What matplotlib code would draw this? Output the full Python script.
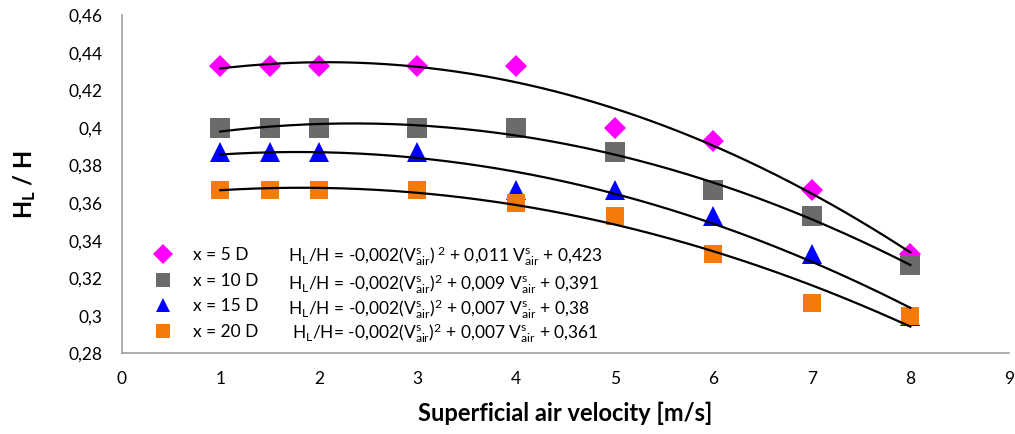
import matplotlib
matplotlib.use("Agg")
import matplotlib.pyplot as plt
import numpy as np

plt.rcParams['font.family'] = ['Lato', 'DejaVu Sans']
plt.rcParams['mathtext.fontset'] = 'custom'
plt.rcParams['mathtext.rm'] = 'Lato'
plt.rcParams['mathtext.it'] = 'Lato'
plt.rcParams['mathtext.bf'] = 'Lato:bold'

# superficial air velocity [m/s]
velocity = [1, 1.5, 2, 3, 4, 5, 6, 7, 8]

# HL/H for each measuring position
hl_5d = [0.433, 0.433, 0.433, 0.433, 0.433, 0.400, 0.393, 0.367, 0.333]
hl_10d = [0.400, 0.400, 0.400, 0.400, 0.400, 0.387, 0.367, 0.353, 0.327]
hl_15d = [0.387, 0.387, 0.387, 0.387, 0.367, 0.367, 0.353, 0.333, 0.300]
hl_20d = [0.367, 0.367, 0.367, 0.367, 0.360, 0.353, 0.333, 0.307, 0.300]

labels = ['x = 5 D', 'x = 10 D', 'x = 15 D', 'x = 20 D']
equations = [
    r'H$_\mathregular{L}$/H = -0,002(V$^\mathregular{s}_\mathregular{air}$)$^\mathregular{\ 2}$ + 0,011 V$^\mathregular{s}_\mathregular{air}$ + 0,423',
    r'H$_\mathregular{L}$/H = -0,002(V$^\mathregular{s}_\mathregular{air}$)$^\mathregular{2}$ + 0,009 V$^\mathregular{s}_\mathregular{air}$ + 0,391',
    r'H$_\mathregular{L}$/H = -0,002(V$^\mathregular{s}_\mathregular{air}$)$^\mathregular{2}$ + 0,007 V$^\mathregular{s}_\mathregular{air}$ + 0,38',
    r'H$_\mathregular{L}$/H= -0,002(V$^\mathregular{s}_\mathregular{air}$)$^\mathregular{2}$ + 0,007 V$^\mathregular{s}_\mathregular{air}$ + 0,361',
]

series = [hl_5d, hl_10d, hl_15d, hl_20d]
markers = ['D', 's', '^', 's']
colors = ['#FF00FF', '#6B6B6B', '#0000FF', '#F47A0A']
sizes = [11, 14, 14, 13]

fig = plt.figure(figsize=(10.15, 4.34), dpi=100)
ax = fig.add_axes([0.1199, 0.186, 0.994 - 0.1199, 0.9643 - 0.186])

handles = []
for ys, m, c, s, lab in zip(series, markers, colors, sizes, labels):
    h, = ax.plot(velocity, ys, linestyle='none', marker=m, color=c,
                 markersize=s, markeredgewidth=0, label=lab, zorder=2)
    handles.append(h)

# second order polynomial trend lines
xfit = np.linspace(velocity[0], velocity[-1], 200)
for ys in series:
    coef = np.polyfit(velocity, ys, 2)
    ax.plot(xfit, np.polyval(coef, xfit), color='black', lw=1.6, zorder=3)

yticks = np.arange(0.28, 0.461, 0.02)
ax.set_xlim(0, 9)
ax.set_ylim(0.28, 0.46)
ax.set_xticks(range(0, 10))
ax.set_yticks(yticks)
ax.set_yticklabels([('%.2f' % v).rstrip('0').replace('.', ',') for v in yticks])
ax.tick_params(length=0, labelsize=12.5)
ax.tick_params(axis='y', pad=14)
ax.tick_params(axis='x', pad=13)

for side in ['top', 'right']:
    ax.spines[side].set_visible(False)
for side in ['left', 'bottom']:
    ax.spines[side].set_color('#A0A0A0')
    ax.spines[side].set_linewidth(1.2)

ax.set_xlabel('Superficial air velocity [m/s]', fontsize=17, fontweight='bold', labelpad=10)
ax.set_ylabel(r'H$_\mathbf{L}$ / H', fontsize=17, fontweight='bold', labelpad=22)

leg = ax.legend(handles=handles, loc='center left', bbox_to_anchor=(143 / 1015, 1 - 293.5 / 434),
                bbox_transform=fig.transFigure, frameon=False, fontsize=12.5,
                handletextpad=1.0, labelspacing=0.56, borderaxespad=0, handlelength=1.5)
for h in leg.legend_handles:
    h.set_markersize(10)

eq_y = [256, 284, 309, 333]
eq_x = [288, 288, 288, 292]
for t, x, y in zip(equations, eq_x, eq_y):
    fig.text(x / 1015, 1 - y / 434, t, fontsize=12.5, va='center', ha='left')

fig.savefig('out.png', dpi=100)
